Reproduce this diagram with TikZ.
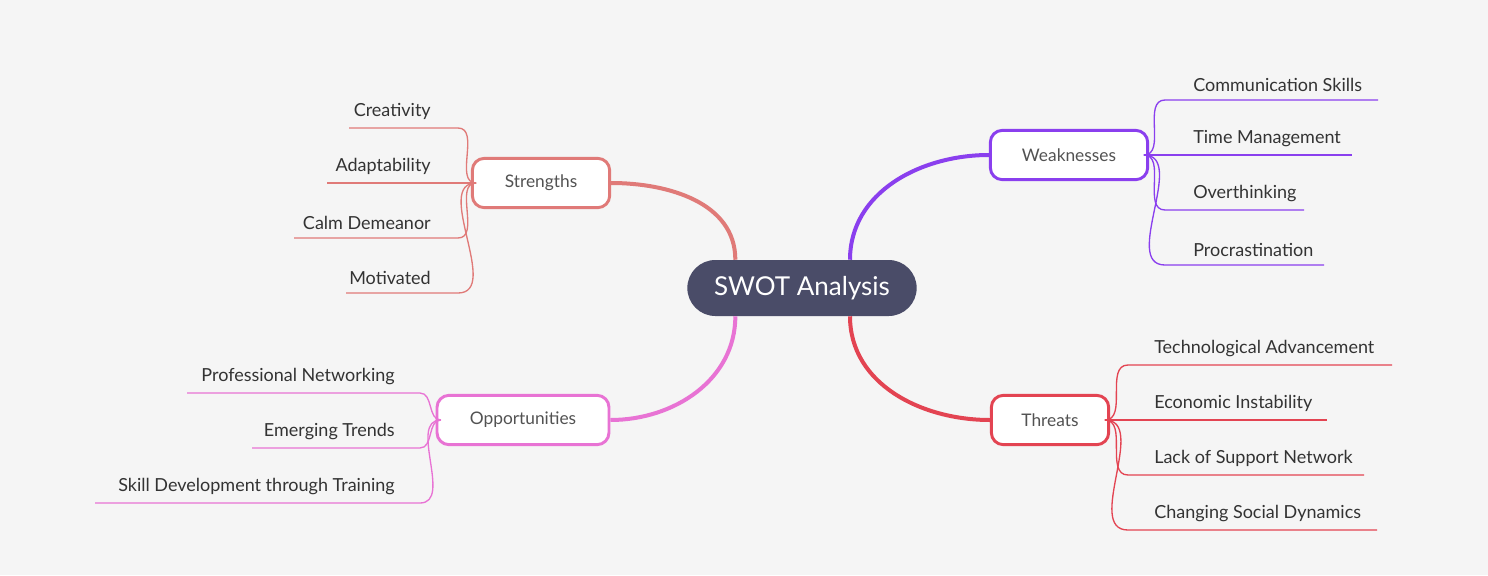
\documentclass[tikz,border=0pt]{standalone}
\usepackage{fontspec}
\setmainfont{Lato}
\definecolor{bgc}{HTML}{F5F5F5}
\definecolor{cen}{HTML}{4A4C68}
\definecolor{strc}{HTML}{E07A78}
\definecolor{weac}{HTML}{8A3FEE}
\definecolor{oppc}{HTML}{E873D4}
\definecolor{thrc}{HTML}{E34452}
\definecolor{txt}{HTML}{333333}
\tikzset{
  branch/.style={draw=#1, line width=2.2pt, fill=white, rounded corners=9pt,
    minimum height=37pt, font=\fontsize{13}{15}\selectfont, text=txt!85},
  leaf/.style={font=\fontsize{13.5}{16}\selectfont, text=txt, inner sep=0pt},
  thin/.style={draw=#1, line width=1pt},
}
\begin{document}
\begin{tikzpicture}[x=0.75pt,y=-0.75pt]
\fill[bgc] (0,0) rectangle (1488,575);
\useasboundingbox (0,0) rectangle (1488,575);
% center
\node[fill=cen, rounded corners=21pt, minimum width=172pt, minimum height=42pt,
  text=white, font=\fontsize{19.5}{22}\selectfont] (root) at (802,288) {SWOT Analysis};
% main branches
\node[branch=strc, minimum width=103pt] (str) at (541,183) {Strengths};
\node[branch=weac, minimum width=118pt] (wea) at (1069,155) {Weaknesses};
\node[branch=oppc, minimum width=129pt] (opp) at (523,420) {Opportunities};
\node[branch=thrc, minimum width=88pt] (thr) at (1050,420) {Threats};
\draw[strc, line width=3pt] ([xshift=-50pt]root.north) to[out=90,in=0] (str.east);
\draw[weac, line width=3pt] ([xshift=36pt]root.north) to[out=90,in=180] (wea.west);
\draw[oppc, line width=3pt] ([xshift=-50pt]root.south) to[out=-90,in=0] (opp.east);
\draw[thrc, line width=3pt] ([xshift=36pt]root.south) to[out=-90,in=180] (thr.west);
% strengths
\foreach \t/\y/\x [count=\i] in {Creativity/128/349, Adaptability/183/327,
    Calm Demeanor/238/294, Motivated/293/346} {
  \coordinate (s\i e) at (458,\y);
  \coordinate (s\i s) at (\x,\y);
  \node[leaf, anchor=south east] (s\i) at (431,\y-8) {\t};
  \draw[thin=strc] ([xshift=4pt]str.west) to[out=180,in=0] (s\i e) -- (s\i s);
}
% weaknesses
\foreach \t/\y/\x [count=\i] in {Communication Skills/100/1378, Time Management/155/1352,
    Overthinking/210/1304, Procrastination/265/1324} {
  \coordinate (w\i s) at (1165,\y);
  \coordinate (w\i e) at (\x,\y);
  \node[leaf, anchor=south west] (w\i) at (1193,\y-8) {\t};
  \draw[thin=weac] ([xshift=-4pt]wea.east) to[out=0,in=180] (w\i s) -- (w\i e);
}
% opportunities
\foreach \t/\y/\x [count=\i] in {Professional Networking/393/187, Emerging Trends/448/252,
    Skill Development through Training/503/95} {
  \coordinate (o\i e) at (420,\y);
  \coordinate (o\i s) at (\x,\y);
  \node[leaf, anchor=south east] (o\i) at (395,\y-8) {\t};
  \draw[thin=oppc] ([xshift=4pt]opp.west) to[out=180,in=0] (o\i e) -- (o\i s);
}
% threats
\foreach \t/\y/\x [count=\i] in {Technological Advancement/365/1392, Economic Instability/420/1327,
    Lack of Support Network/475/1364, Changing Social Dynamics/530/1377} {
  \coordinate (t\i s) at (1128,\y);
  \coordinate (t\i e) at (\x,\y);
  \node[leaf, anchor=south west] (t\i) at (1154,\y-8) {\t};
  \draw[thin=thrc] ([xshift=-4pt]thr.east) to[out=0,in=180] (t\i s) -- (t\i e);
}
\end{tikzpicture}
\end{document}
